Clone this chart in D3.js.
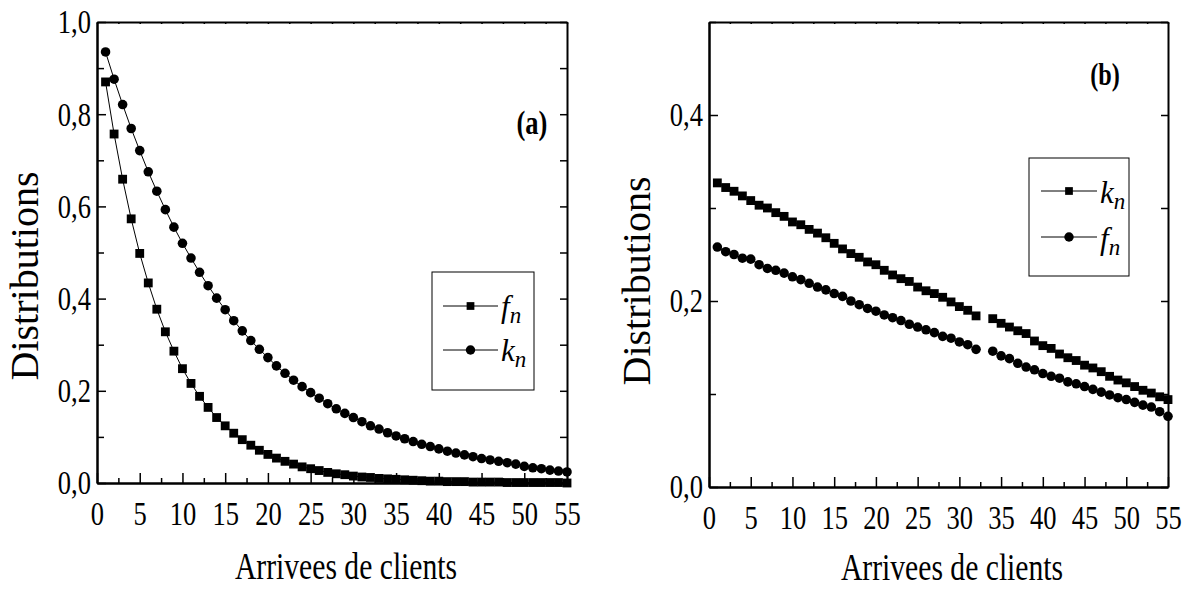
<!DOCTYPE html>
<html>
<head>
<meta charset="utf-8">
<script src="https://cdn.jsdelivr.net/npm/d3@7"></script>
<style>
    body { margin: 0; background: #fff; }
    text { font-family: "Liberation Serif", "Times New Roman", Times, serif; fill: #000; }
    .axis path, .axis line { stroke: #000; }
</style>
</head>
<body>
<svg id="chart" width="1195" height="589"></svg>
<script>
// arrivals n = 1..55
const arrivals = d3.range(1, 56);
const xTicks = [0, 5, 10, 15, 20, 25, 30, 35, 40, 45, 50, 55];
const xMinor = [2.5, 7.5, 12.5, 17.5, 22.5, 27.5, 32.5, 37.5, 42.5, 47.5, 52.5];

// panel (a)
const fA = [0.870, 0.757, 0.659, 0.573, 0.498, 0.434, 0.377, 0.328, 0.286, 0.248,
            0.216, 0.188, 0.164, 0.142, 0.124, 0.108, 0.094, 0.082, 0.071, 0.062,
            0.054, 0.047, 0.041, 0.035, 0.031, 0.027, 0.023, 0.020, 0.018, 0.015,
            0.013, 0.012, 0.010, 0.009, 0.008, 0.007, 0.006, 0.005, 0.004, 0.004,
            0.003, 0.003, 0.003, 0.002, 0.002, 0.002, 0.002, 0.001, 0.001, 0.001,
            0.001, 0.001, 0.001, 0.001, 0.000];
const kA = [0.935, 0.876, 0.821, 0.769, 0.721, 0.675, 0.633, 0.593, 0.555, 0.520,
            0.488, 0.457, 0.428, 0.401, 0.376, 0.352, 0.330, 0.309, 0.290, 0.272,
            0.254, 0.238, 0.223, 0.209, 0.196, 0.184, 0.172, 0.161, 0.151, 0.142,
            0.133, 0.124, 0.117, 0.109, 0.102, 0.096, 0.090, 0.084, 0.079, 0.074,
            0.069, 0.065, 0.061, 0.057, 0.053, 0.050, 0.047, 0.044, 0.041, 0.036,
            0.033, 0.031, 0.028, 0.026, 0.024];
const yTicksA = [0, 0.2, 0.4, 0.6, 0.8, 1.0];
const yMinorA = [0.1, 0.3, 0.5, 0.7, 0.9];

// panel (b), n = 33 missing
const kB = [0.327, 0.322, 0.318, 0.313, 0.308, 0.303, 0.300, 0.295, 0.291, 0.285,
            0.282, 0.277, 0.273, 0.268, 0.262, 0.256, 0.251, 0.247, 0.242, 0.239,
            0.233, 0.228, 0.224, 0.221, 0.215, 0.211, 0.208, 0.204, 0.199, 0.194,
            0.190, 0.184, null, 0.181, 0.176, 0.172, 0.168, 0.165, 0.157, 0.152,
            0.149, 0.143, 0.139, 0.136, 0.131, 0.128, 0.124, 0.119, 0.115, 0.112,
            0.108, 0.104, 0.101, 0.097, 0.094];
const fB = [0.258, 0.253, 0.250, 0.246, 0.245, 0.239, 0.235, 0.233, 0.230, 0.226,
            0.223, 0.219, 0.215, 0.212, 0.208, 0.205, 0.200, 0.196, 0.192, 0.189,
            0.185, 0.182, 0.179, 0.175, 0.172, 0.169, 0.166, 0.162, 0.160, 0.156,
            0.153, 0.148, null, 0.146, 0.141, 0.138, 0.133, 0.129, 0.126, 0.122,
            0.119, 0.117, 0.113, 0.111, 0.108, 0.105, 0.102, 0.099, 0.096, 0.094,
            0.091, 0.088, 0.086, 0.081, 0.076];
const yTicksB = [0, 0.2, 0.4];
const yMinorB = [0.1, 0.3, 0.5];

const xTitle = "Arrivees de clients";
const yTitle = "Distributions";

const svg = d3.select("#chart");
const comma = d => d3.format(".1f")(d).replace(".", ",");

const panels = [
    {
        left: 97, right: 567, top: 22, bottom: 483, yMax: 1.0,
        yTicks: yTicksA, yMinor: yMinorA,
        series: [
            { name: "f", vals: fA, sym: d3.symbolSquare },
            { name: "k", vals: kA, sym: d3.symbolCircle }
        ],
        legend: { x: 432, y: 272, w: 102, h: 118, x1: 443, x2: 498, rows: [306, 350], dy: 11 },
        tag: { text: "(a)", x: 532, y: 134, size: 34 },
        xTitle: { x: 346, y: 579 },
        yTitle: { x: 38, y: 276 }
    },
    {
        left: 709, right: 1168, top: 22, bottom: 487, yMax: 0.5,
        yTicks: yTicksB, yMinor: yMinorB,
        series: [
            { name: "k", vals: kB, sym: d3.symbolSquare },
            { name: "f", vals: fB, sym: d3.symbolCircle }
        ],
        legend: { x: 1029, y: 158, w: 100, h: 118, x1: 1041, x2: 1097, rows: [191, 237], dy: 12 },
        tag: { text: "(b)", x: 1105, y: 85, size: 31 },
        xTitle: { x: 952, y: 580 },
        yTitle: { x: 650, y: 281 }
    }
];

panels.forEach(p => {
    const x = d3.scaleLinear().domain([0, 55]).range([p.left, p.right]);
    const y = d3.scaleLinear().domain([0, p.yMax]).range([p.bottom, p.top]);
    const g = svg.append("g");

    // axes, all ticks pointing inward
    g.append("g").attr("class", "axis")
        .attr("transform", `translate(0,${p.bottom})`)
        .call(d3.axisBottom(x).tickValues(xMinor).tickSize(-5).tickSizeOuter(0).tickFormat(""));
    g.append("g").attr("class", "axis cond")
        .attr("transform", `translate(0,${p.bottom})`)
        .call(d3.axisBottom(x).tickValues(xTicks).tickSize(-10).tickSizeOuter(0).tickPadding(18).tickFormat(d3.format("d")));
    g.append("g").attr("class", "axis")
        .attr("transform", `translate(0,${p.top})`)
        .call(d3.axisTop(x).tickValues(xTicks.concat(xMinor)).tickSize(-2).tickSizeOuter(0).tickFormat(""));
    g.append("g").attr("class", "axis")
        .attr("transform", `translate(${p.left},0)`)
        .call(d3.axisLeft(y).tickValues(p.yMinor).tickSize(-7).tickSizeOuter(0).tickFormat(""));
    g.append("g").attr("class", "axis cond")
        .attr("transform", `translate(${p.left},0)`)
        .call(d3.axisLeft(y).tickValues(p.yTicks).tickSize(-9).tickSizeOuter(0).tickPadding(6).tickFormat(comma));
    g.append("g").attr("class", "axis")
        .attr("transform", `translate(${p.right},0)`)
        .call(d3.axisRight(y).tickValues(p.yTicks.concat(p.yMinor)).tickSize(-7).tickSizeOuter(0).tickFormat(""));

    g.selectAll(".axis").attr("font-family", null);
    g.selectAll(".axis path").attr("stroke-width", 2);
    g.selectAll(".axis line").attr("stroke-width", 1.5);
    g.selectAll(".axis text")
        .attr("font-size", 34)
        .attr("fill", "#000");

    // series
    const line = d3.line()
        .defined(d => d.v != null)
        .x(d => x(d.n))
        .y(d => y(d.v));

    p.series.forEach(s => {
        const pts = arrivals.map((n, i) => ({ n: n, v: s.vals[i] }));
        g.append("path")
            .attr("d", line(pts))
            .attr("fill", "none")
            .attr("stroke", "#000")
            .attr("stroke-width", 1);
        g.selectAll(null)
            .data(pts.filter(d => d.v != null))
            .enter().append("path")
            .attr("transform", d => `translate(${x(d.n)},${y(d.v)})`)
            .attr("d", d3.symbol(s.sym, s.sym === d3.symbolSquare ? 78 : 72))
            .attr("fill", "#000");
    });

    // legend
    const lg = p.legend;
    g.append("rect")
        .attr("x", lg.x).attr("y", lg.y)
        .attr("width", lg.w).attr("height", lg.h)
        .attr("fill", "#fff").attr("stroke", "#000").attr("stroke-width", 1);
    p.series.forEach((s, i) => {
        const ry = lg.rows[i];
        g.append("line")
            .attr("x1", lg.x1).attr("x2", lg.x2)
            .attr("y1", ry).attr("y2", ry)
            .attr("stroke", "#000").attr("stroke-width", 1);
        g.append("path")
            .attr("transform", `translate(${(lg.x1 + lg.x2) / 2},${ry})`)
            .attr("d", d3.symbol(s.sym, s.sym === d3.symbolSquare ? 60 : 70))
            .attr("fill", "#000");
        const t = g.append("text")
            .attr("x", lg.x2 + 3)
            .attr("y", ry + lg.dy)
            .attr("font-size", 31)
            .attr("font-style", "italic");
        t.append("tspan").text(s.name);
        t.append("tspan").attr("dy", 6).attr("font-size", 23).text("n");
    });

    // panel tag
    g.append("text")
        .attr("class", "cond")
        .attr("x", p.tag.x).attr("y", p.tag.y)
        .attr("text-anchor", "middle")
        .attr("font-size", p.tag.size)
        .attr("font-weight", "bold")
        .text(p.tag.text);

    // titles
    g.append("text")
        .attr("class", "cond")
        .attr("x", p.xTitle.x).attr("y", p.xTitle.y)
        .attr("text-anchor", "middle")
        .attr("font-size", 38)
        .text(xTitle);

    g.append("text")
        .attr("transform", `translate(${p.yTitle.x},${p.yTitle.y}) rotate(-90)`)
        .attr("text-anchor", "middle")
        .attr("font-size", 40)
        .text(yTitle);
});

// the original lettering is horizontally condensed
svg.selectAll("text.cond, .cond text").each(function() {
    const len = this.getComputedTextLength();
    d3.select(this)
        .attr("textLength", len * 0.78)
        .attr("lengthAdjust", "spacingAndGlyphs");
});
</script>
</body>
</html>
